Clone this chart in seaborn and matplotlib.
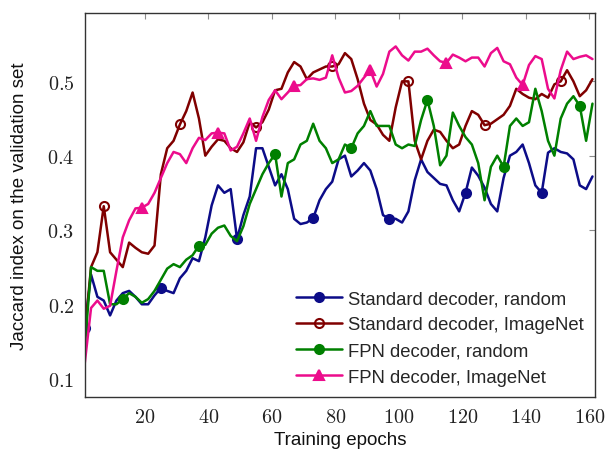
import numpy as np
import pandas as pd
import matplotlib
matplotlib.use("Agg")
import matplotlib.pyplot as plt
from matplotlib.lines import Line2D
from matplotlib.ticker import FuncFormatter
import seaborn as sns

# ---------------- data (odd epochs 1..161) ----------------
epochs = list(range(1, 162, 2))

std_random = [0.168, 0.24, 0.21, 0.205, 0.185, 0.205, 0.215, 0.218, 0.21, 0.2,
              0.2, 0.212, 0.222, 0.218, 0.215, 0.235, 0.245, 0.262, 0.258, 0.29,
              0.333, 0.36, 0.35, 0.355, 0.288, 0.32, 0.345, 0.41, 0.41, 0.385,
              0.36, 0.375, 0.355, 0.315, 0.308, 0.31, 0.316, 0.34, 0.355, 0.365,
              0.395, 0.4, 0.372, 0.38, 0.39, 0.38, 0.355, 0.32, 0.315, 0.315,
              0.31, 0.325, 0.367, 0.395, 0.378, 0.37, 0.362, 0.36, 0.34, 0.325,
              0.35, 0.384, 0.373, 0.357, 0.335, 0.325, 0.37, 0.4, 0.405, 0.415,
              0.39, 0.36, 0.35, 0.404, 0.41, 0.405, 0.403, 0.395, 0.36, 0.355,
              0.372]

std_imagenet = [0.16, 0.25, 0.27, 0.332, 0.27, 0.26, 0.25, 0.283, 0.276, 0.27,
                0.268, 0.279, 0.375, 0.41, 0.42, 0.442, 0.46, 0.485, 0.45, 0.4,
                0.412, 0.422, 0.42, 0.41, 0.405, 0.418, 0.445, 0.438, 0.445, 0.462,
                0.488, 0.49, 0.512, 0.526, 0.52, 0.503, 0.512, 0.516, 0.52, 0.52,
                0.523, 0.538, 0.53, 0.503, 0.47, 0.448, 0.442, 0.428, 0.42, 0.465,
                0.5, 0.5, 0.42, 0.395, 0.42, 0.435, 0.432, 0.42, 0.41, 0.415,
                0.44, 0.46, 0.455, 0.441, 0.443, 0.449, 0.455, 0.467, 0.49, 0.483,
                0.478, 0.476, 0.483, 0.478, 0.496, 0.5, 0.515, 0.5, 0.48, 0.488,
                0.503]

fpn_random = [0.14, 0.25, 0.245, 0.245, 0.2, 0.2, 0.207, 0.215, 0.21, 0.202,
              0.207, 0.218, 0.233, 0.248, 0.254, 0.25, 0.26, 0.266, 0.279, 0.28,
              0.295, 0.303, 0.306, 0.292, 0.285, 0.305, 0.335, 0.355, 0.375, 0.39,
              0.402, 0.345, 0.39, 0.395, 0.415, 0.42, 0.443, 0.42, 0.41, 0.39,
              0.395, 0.415, 0.41, 0.43, 0.44, 0.46, 0.44, 0.44, 0.44, 0.415,
              0.41, 0.415, 0.413, 0.448, 0.475, 0.44, 0.387, 0.4, 0.458, 0.44,
              0.425, 0.415, 0.39, 0.34, 0.385, 0.4, 0.385, 0.44, 0.45, 0.44,
              0.445, 0.49, 0.46, 0.42, 0.4, 0.45, 0.47, 0.48, 0.467, 0.42,
              0.47]

fpn_imagenet = [0.12, 0.195, 0.205, 0.194, 0.198, 0.245, 0.29, 0.313, 0.329, 0.33,
                0.335, 0.35, 0.37, 0.39, 0.405, 0.402, 0.39, 0.41, 0.424, 0.421,
                0.43, 0.431, 0.43, 0.407, 0.412, 0.43, 0.45, 0.42, 0.452, 0.475,
                0.488, 0.476, 0.485, 0.494, 0.495, 0.503, 0.504, 0.502, 0.505, 0.535,
                0.505, 0.485, 0.487, 0.494, 0.505, 0.515, 0.493, 0.51, 0.54, 0.547,
                0.535, 0.528, 0.54, 0.54, 0.544, 0.535, 0.527, 0.525, 0.536, 0.532,
                0.527, 0.532, 0.532, 0.52, 0.538, 0.545, 0.527, 0.523, 0.505, 0.495,
                0.522, 0.534, 0.53, 0.49, 0.477, 0.515, 0.54, 0.53, 0.533, 0.535,
                0.53]

labels = ["Standard decoder, random", "Standard decoder, ImageNet",
          "FPN decoder, random", "FPN decoder, ImageNet"]
x_ticks = [20, 40, 60, 80, 100, 120, 140, 160]
y_ticks = [0.1, 0.2, 0.3, 0.4, 0.5]

# ---------------- style ----------------
colors = ["#0c0c88", "#800000", "#008000", "#ec0c8c"]
markers = ["o", "o", "o", "^"]
facecols = ["#0c0c88", "none", "#008000", "#ec0c8c"]
mark_start = [0, 3, 6, 9]

sns.set_style("white")
plt.rcParams["font.family"] = ["Liberation Sans", "DejaVu Sans"]
plt.rcParams["mathtext.fontset"] = "cm"

fig = plt.figure(figsize=(6.05, 4.52), dpi=100)
ax = fig.add_axes([84.7 / 605, 1 - 398 / 452, (595 - 84.7) / 605, (398 - 14) / 452])

series = [std_random, std_imagenet, fpn_random, fpn_imagenet]
handles = []
for vals, lab, c, m, fc, st in zip(series, labels, colors, markers, facecols, mark_start):
    df = pd.DataFrame({"epoch": epochs, "jaccard": vals})
    sns.lineplot(data=df, x="epoch", y="jaccard", ax=ax, color=c, lw=1.8,
                 marker=m, markersize=6.5, markevery=(st, 12),
                 markerfacecolor=fc, mec=c, mew=1.5, legend=False)
    handles.append(Line2D([], [], color=c, lw=1.8, marker=m, markersize=6.5,
                          markerfacecolor=fc, markeredgecolor=c, markeredgewidth=1.5))

ax.set_xlim(1, 161.8)
ax.set_ylim(0.0752, 0.592)
ax.set_xticks(x_ticks)
ax.set_yticks(y_ticks)
fmt = FuncFormatter(lambda v, p: f"${v:g}$")
ax.xaxis.set_major_formatter(fmt)
ax.yaxis.set_major_formatter(fmt)
ax.tick_params(direction="in", length=4.5, width=0.8, color="#8c8c8c",
               top=True, right=True, labelsize=14.5, labelcolor="#222222")
ax.tick_params(axis="x", pad=7)
ax.tick_params(axis="y", pad=7.5)

for sp in ax.spines.values():
    sp.set_color("#333333")
    sp.set_linewidth(1.0)
    sp.set_zorder(6)

ax.set_xlabel("Training epochs", fontsize=13.5, labelpad=4, color="#111111")
ax.set_ylabel("Jaccard index on the validation set", fontsize=13.5, labelpad=14,
              color="#111111")

leg = ax.legend(handles=handles, labels=labels, loc="lower right",
                bbox_to_anchor=(1, 0), borderaxespad=0, frameon=True,
                fancybox=False, framealpha=1, facecolor="white", edgecolor="none",
                fontsize=13.3, handlelength=2.5, handletextpad=0.35,
                labelspacing=0.5, borderpad=0.6, numpoints=1)
leg.set_zorder(5)

fig.savefig("out.png", dpi=100)
